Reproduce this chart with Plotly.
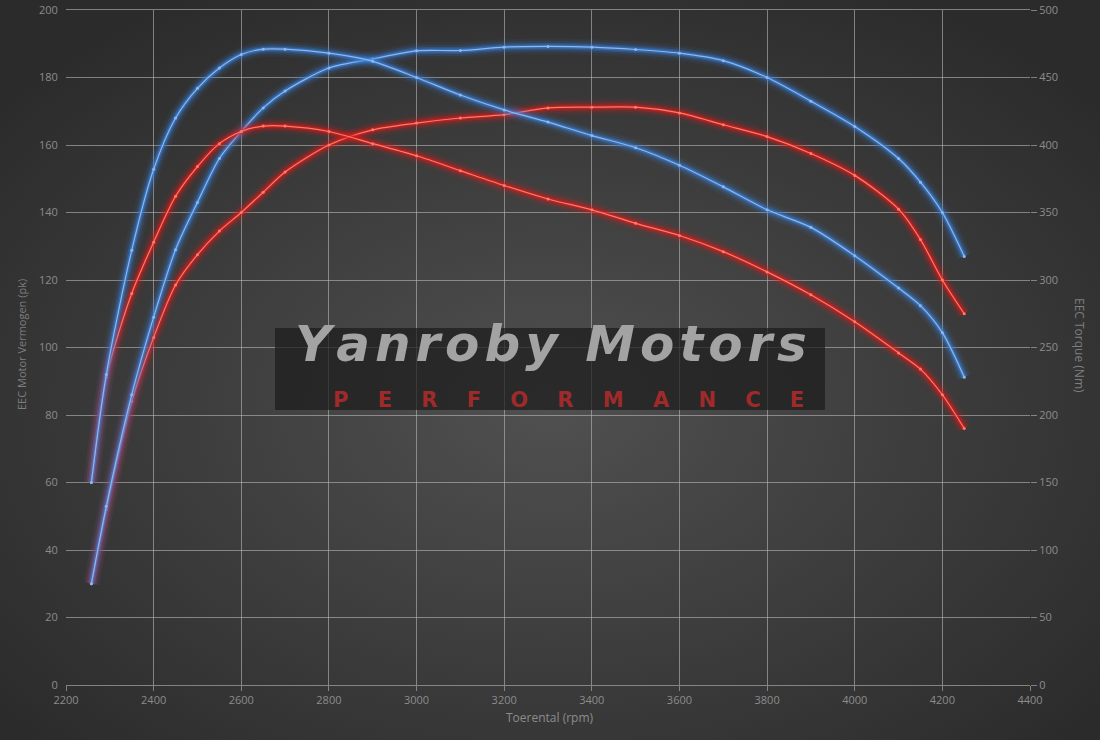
import base64
import plotly.graph_objects as go

# ---------------- data ----------------
rpm = [2258, 2292, 2350, 2400, 2450, 2500, 2550, 2600, 2650, 2700, 2800, 2900, 3000,
       3100, 3200, 3300, 3400, 3500, 3600, 3700, 3800, 3900, 4000, 4100, 4150, 4200, 4250]

power_tuned = [30, 53, 86, 109, 129, 143, 156, 164, 171, 176, 182.8, 185.5, 187.9,
               188, 189, 189.2, 189, 188.3, 187.2, 185, 180, 173, 165.5, 156, 149, 140, 127]
power_stock = [30, 52, 84, 103, 118.5, 127.5, 134.5, 140, 146, 152, 160, 164.5, 166.5,
               168, 169, 171, 171.2, 171.2, 169.5, 166, 162.5, 157.5, 151, 141, 132, 120, 110]
torque_tuned = [150, 230, 322, 382, 420, 442, 457, 467, 471, 471, 468, 462, 450,
                437, 426, 417, 407, 398, 385, 369, 352, 339, 318, 294, 281, 261, 228]
torque_stock = [150, 228, 290, 328, 362, 384, 401, 410, 414, 414, 410, 401, 392,
                381, 370, 360, 352, 342, 333, 321, 306, 289, 269, 246, 234, 215, 190]

x_title = "Toerental (rpm)"
y_title = "EEC Motor Vermogen (pk)"
y2_title = "EEC Torque (Nm)"
logo_main = "Yanroby Motors"
logo_sub = "PERFORMANCE"

# ---------------- styling ----------------
BLUE_GLOW = "58,130,220"
BLUE_CORE = "#8ab8f2"
RED_GLOW = "225,25,25"
RED_CORE = "#ff7a6a"

fig = go.Figure()


def glow_series(y, axis, glow_rgb, core):
    for w, a in [(16, 0.08), (11, 0.14), (7, 0.28), (4, 0.5)]:
        fig.add_trace(go.Scatter(
            x=rpm, y=y, yaxis=axis, mode="lines",
            line=dict(color=f"rgba({glow_rgb},{a})", width=w, shape="spline", smoothing=0.8),
            hoverinfo="skip", showlegend=False))
    fig.add_trace(go.Scatter(
        x=rpm, y=y, yaxis=axis, mode="lines+markers",
        line=dict(color=core, width=1.2, shape="spline", smoothing=0.8),
        marker=dict(size=3, color=core),
        showlegend=False))


glow_series(torque_stock, "y2", RED_GLOW, RED_CORE)
glow_series(power_stock, "y", RED_GLOW, RED_CORE)
glow_series(torque_tuned, "y2", BLUE_GLOW, BLUE_CORE)
glow_series(power_tuned, "y", BLUE_GLOW, BLUE_CORE)

# background radial gradient
svg = ('<svg xmlns="http://www.w3.org/2000/svg" width="1100" height="740">'
       '<defs><radialGradient id="g" cx="50%" cy="55%" r="65%">'
       '<stop offset="0%" stop-color="#505050"/>'
       '<stop offset="100%" stop-color="#2b2b2b"/>'
       '</radialGradient></defs>'
       '<rect width="1100" height="740" fill="url(#g)"/></svg>')
src = "data:image/svg+xml;base64," + base64.b64encode(svg.encode()).decode()

L, R, T, B = 66, 70, 10, 55
W, H = 1100, 740
pw, ph = W - L - R, H - T - B

grid = "rgba(185,185,185,0.6)"
tickfont = dict(family="Open Sans, DejaVu Sans, sans-serif", size=11, color="#8c8c8c")

HS = "\u200a"
NB = "\u00a0"

fig.update_layout(
    width=W, height=H,
    margin=dict(l=L, r=R, t=T, b=B, autoexpand=False),
    paper_bgcolor="#333333",
    plot_bgcolor="rgba(0,0,0,0)",
    images=[dict(source=src, xref="paper", yref="paper",
                 x=-L / pw, y=1 + T / ph, sizex=W / pw, sizey=H / ph,
                 xanchor="left", yanchor="top", sizing="stretch", layer="below")],
    xaxis=dict(range=[2200, 4400], dtick=200, tick0=2200, showgrid=True, gridcolor=grid,
               gridwidth=1, zeroline=False, showline=True, linecolor=grid, mirror=True,
               ticks="outside", ticklen=5, tickcolor=grid, tickfont=tickfont, automargin=False),
    yaxis=dict(range=[0, 200], dtick=20, showgrid=True, gridcolor=grid, gridwidth=1,
               zeroline=False, showline=False, ticks="outside", ticklen=5,
               tickcolor="rgba(0,0,0,0)", tickfont=tickfont, automargin=False),
    yaxis2=dict(range=[0, 500], dtick=50, overlaying="y", side="right", showgrid=False,
                zeroline=False, showline=False, ticks="outside", ticklen=6, tickcolor=grid,
                tickfont=tickfont, automargin=False),
    shapes=[dict(type="rect", xref="paper", yref="paper",
                 x0=(275 - L) / pw, x1=(825 - L) / pw,
                 y0=(H - B - 410) / ph, y1=(H - B - 328) / ph,
                 fillcolor="rgba(28,28,28,0.72)", line=dict(width=0), layer="above")],
    annotations=[
        dict(text=HS.join(list(logo_main)), xref="paper", yref="paper",
             x=(551 - L) / pw, y=(H - B - 344) / ph,
             showarrow=False, xanchor="center", yanchor="middle",
             font=dict(family="DejaVu Sans, sans-serif", size=50, color="#a3a3a3",
                       weight="bold", style="italic")),
        dict(text=(NB * 4).join(list(logo_sub)), xref="paper", yref="paper",
             x=(568 - L) / pw, y=(H - B - 400) / ph,
             showarrow=False, xanchor="center", yanchor="middle",
             font=dict(family="DejaVu Sans, sans-serif", size=21, color="#a02a2a", weight="bold")),
        dict(text=y_title, xref="paper", yref="paper", x=(21 - L) / pw, y=(H - B - 345) / ph,
             showarrow=False, textangle=-90, xanchor="center", yanchor="middle",
             font=dict(family="Open Sans, DejaVu Sans, sans-serif", size=11, color="#7e7e7e")),
        dict(text=y2_title, xref="paper", yref="paper", x=(1080 - L) / pw, y=(H - B - 345) / ph,
             showarrow=False, textangle=90, xanchor="center", yanchor="middle",
             font=dict(family="Open Sans, DejaVu Sans, sans-serif", size=12, color="#7e7e7e")),
        dict(text=x_title, xref="paper", yref="paper", x=(550 - L) / pw, y=(H - B - 717) / ph,
             showarrow=False, xanchor="center", yanchor="middle",
             font=dict(family="Open Sans, DejaVu Sans, sans-serif", size=12, color="#8c8c8c")),
    ],
)

fig.write_html("out.html", config={"displayModeBar": False},
               post_script="document.body.style.margin='0';document.body.style.overflow='hidden';")
